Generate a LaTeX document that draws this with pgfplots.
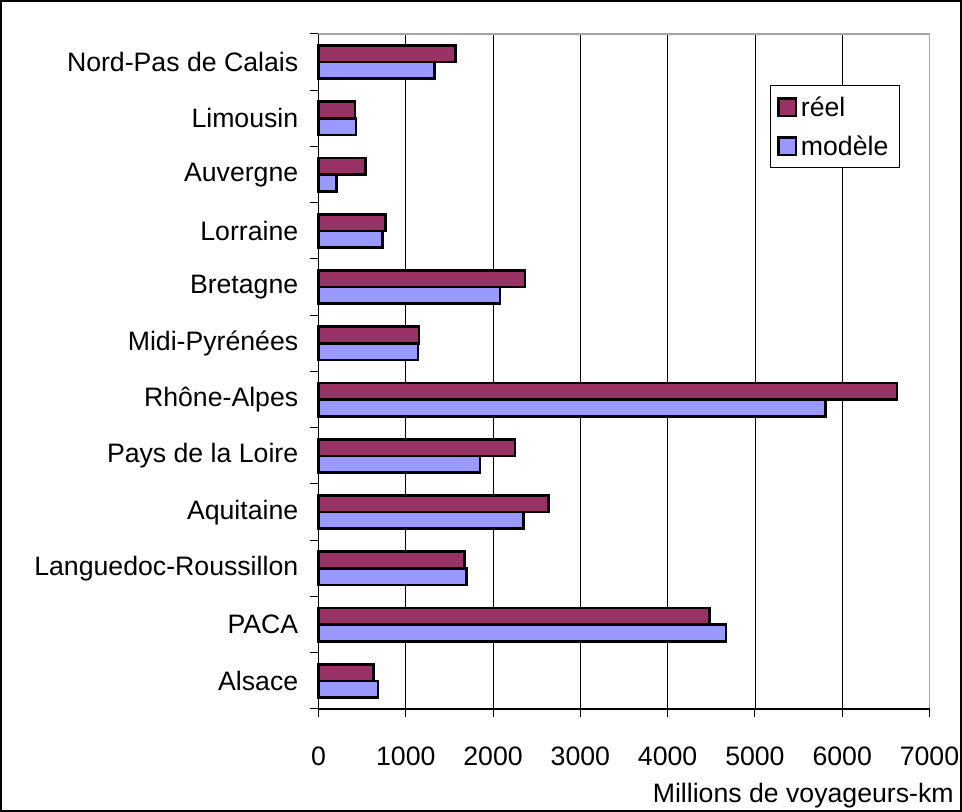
\documentclass[border=0pt]{standalone}
\usepackage{fontspec}
\setmainfont{Liberation Sans}
\usepackage{pgfplots}
\pgfplotsset{compat=1.18}
\definecolor{reel}{HTML}{993366}
\definecolor{modele}{HTML}{9999FF}
\begin{document}
\begin{tikzpicture}
\useasboundingbox (-238.875pt,-77.25pt) rectangle (482.625pt,531.75pt);
\draw[black, line width=1.5pt] (-238.125pt,-76.5pt) rectangle (481.875pt,531pt);
\begin{axis}[
  scale only axis,
  width=458.25pt, height=506.25pt,
  at={(0,0)}, anchor=south west,
  font=\fontsize{20}{24}\selectfont,
  xmin=0, xmax=7000, ymin=-0.5, ymax=11.5,
  xtick={0,1000,...,7000},
  ytick={0,...,11},
  yticklabels={Alsace,PACA,Languedoc-Roussillon,Aquitaine,Pays de la Loire,Rhône-Alpes,Midi-Pyrénées,Bretagne,Lorraine,Auvergne,Limousin,Nord-Pas de Calais},
  minor ytick={-0.5,0.5,...,11.5},
  xtick pos=bottom, ytick pos=left,
  major y tick style={draw=none},
  minor y tick style={black, line width=0.75pt},
  x tick style={black, line width=0.75pt},
  tick align=outside,
  major tick length=6pt, minor tick length=6pt,
  /pgf/number format/assume math mode=true,
  scaled x ticks=false,
  xticklabel style={/pgf/number format/1000 sep={}, anchor=north, inner sep=0pt, yshift=-22.5pt},
  yticklabel style={anchor=east, inner sep=0pt, xshift=-9pt},
  xmajorgrids,
  major x grid style={black, line width=0.6pt},
  axis line style={draw=gray!70, line width=1pt},
  xlabel={Millions de voyageurs-km},
  xlabel style={at={(axis description cs:1.04,-0.128)}, anchor=east, inner sep=0pt},
  legend style={at={(0.739,0.924)}, anchor=north west, draw=black, line width=0.75pt,
    font=\fontsize{20}{24}\selectfont, row sep=9pt, inner xsep=5pt, inner ysep=6pt,
    nodes={inner xsep=3pt}},
  legend cell align=left,
  legend image code/.code={\draw[#1, line width=1.8pt] (0pt,-6.5pt) rectangle (13pt,6.5pt);},
  clip=false,
]
\addplot[xbar, bar width=12.5pt, bar shift=6.25pt, fill=reel, draw=black, line width=2pt]
  coordinates {(633,0) (4479,1) (1669,2) (2635,3) (2253,4) (6626,5) (1153,6) (2364,7) (766,8) (537,9) (419,10) (1569,11)};
\addlegendentry{réel}
\addplot[xbar, bar width=12.5pt, bar shift=-6.25pt, fill=modele, draw=black, line width=2pt]
  coordinates {(682,0) (4670,1) (1699,2) (2349,3) (1849,4) (5812,5) (1141,6) (2081,7) (732,8) (209,9) (430,10) (1332,11)};
\addlegendentry{modèle}
\draw[black, line width=1pt] (rel axis cs:0,1) -- (rel axis cs:0,0) -- (rel axis cs:1,0);
\end{axis}
\end{tikzpicture}
\end{document}
